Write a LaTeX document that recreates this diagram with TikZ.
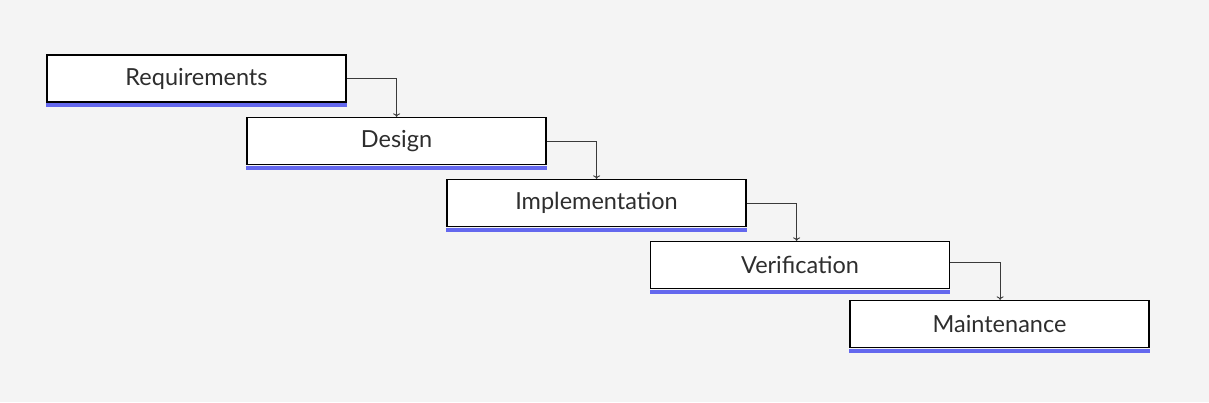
\documentclass[tikz,border=0pt]{standalone}
\usepackage{fontspec}
\setmainfont{Lato}
\usetikzlibrary{calc,arrows.meta}
\definecolor{bg}{HTML}{F4F4F4}
\definecolor{barc}{HTML}{6468EE}
\definecolor{txt}{HTML}{2E2E2E}
\definecolor{linec}{HTML}{3A3A3A}
\tikzset{
  phase/.style={draw=black, line width=1.2pt, fill=white, minimum width=299pt, minimum height=47pt, inner sep=0pt, text=txt, font=\fontsize{23.5}{27}\selectfont},
  conn/.style={draw=linec, line width=0.9pt, -{To[length=3.5pt,width=7pt]}},
  barfill/.style={fill=barc}
}
\begin{document}
\begin{tikzpicture}[x=1pt,y=1pt]
\fill[bg] (0,0) rectangle (1209,402);
\useasboundingbox (0,0) rectangle (1209,402);
\node[phase] (R) at (196.5,323.5) {Requirements};
\node[phase] (D) at (396.5,261) {Design};
\node[phase] (I) at (596.5,199) {Implementation};
\node[phase] (V) at (800,137) {Verification};
\node[phase] (M) at (999.5,78) {Maintenance};
\foreach \n in {R,D,I,V,M}{
  \fill[barfill] ([yshift=-0.6pt]\n.south west) rectangle ([yshift=-4.6pt]\n.south east);
}
\coordinate (c1) at ($(R.east)+(50,0)$);
\coordinate (c2) at ($(D.east)+(50,0)$);
\coordinate (c3) at ($(I.east)+(50,0)$);
\coordinate (c4) at ($(V.east)+(50,0)$);
\draw[conn] (R.east) -| (c1 |- D.north);
\draw[conn] (D.east) -| (c2 |- I.north);
\draw[conn] (I.east) -| (c3 |- V.north);
\draw[conn] ([yshift=3pt]V.east) -| (c4 |- M.north);
\end{tikzpicture}
\end{document}
